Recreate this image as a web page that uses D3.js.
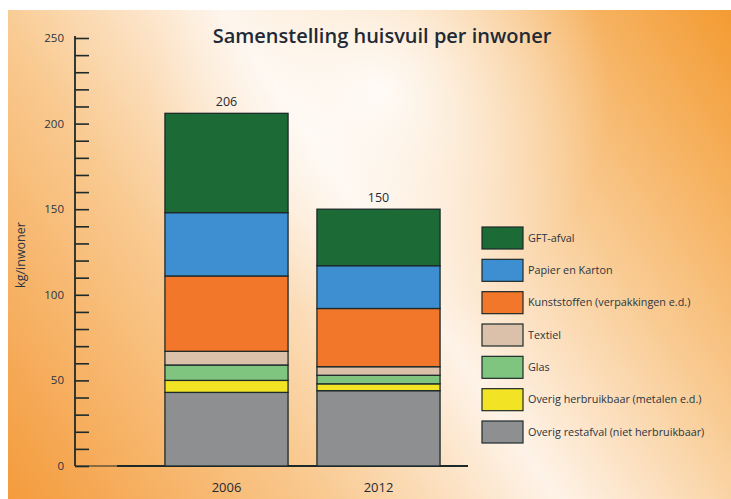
<!DOCTYPE html>
<html>
<head>
<meta charset="utf-8">
<script src="https://cdn.jsdelivr.net/npm/d3@7"></script>
<style>
  html, body { margin: 0; padding: 0; background: #fff; }
  svg { display: block; font-family: "Open Sans", "DejaVu Sans", sans-serif; }
</style>
</head>
<body>
<svg id="chart" width="731" height="499"></svg>
<script>
// data
const years = ["2006", "2012"];
const categories = [
  "Overig restafval (niet herbruikbaar)",
  "Overig herbruikbaar (metalen e.d.)",
  "Glas",
  "Textiel",
  "Kunststoffen (verpakkingen e.d.)",
  "Papier en Karton",
  "GFT-afval"
];
const values2006 = [43, 7, 9, 8, 44, 37, 58];
const values2012 = [44, 4, 5, 5, 34, 25, 33];
const totals = [206, 150];
const yTicks = [0, 50, 100, 150, 200, 250];
const colors = ["#8e8f91", "#f2e424", "#7fc47f", "#dcc1aa", "#f2772a", "#3d8fd1", "#1c6a36"];

const svg = d3.select("#chart");

// background gradient
const defs = svg.append("defs");
const grad = defs.append("linearGradient")
  .attr("id", "bg")
  .attr("gradientUnits", "userSpaceOnUse")
  .attr("x1", 0).attr("y1", 499).attr("x2", 731).attr("y2", 0);
grad.append("stop").attr("offset", "0%").attr("stop-color", "#f49a3a");
grad.append("stop").attr("offset", "30%").attr("stop-color", "#f9c98f");
grad.append("stop").attr("offset", "52%").attr("stop-color", "#fef3e8");
grad.append("stop").attr("offset", "72%").attr("stop-color", "#f9cc95");
grad.append("stop").attr("offset", "100%").attr("stop-color", "#f39a30");
const glow = defs.append("radialGradient").attr("id", "glow")
  .attr("gradientUnits", "userSpaceOnUse")
  .attr("cx", 380).attr("cy", 90).attr("r", 230);
glow.append("stop").attr("offset", "0%").attr("stop-color", "#fff").attr("stop-opacity", 0.85);
glow.append("stop").attr("offset", "100%").attr("stop-color", "#fff").attr("stop-opacity", 0);

svg.append("rect").attr("x", 8).attr("y", 10).attr("width", 723).attr("height", 489).attr("fill", "url(#bg)");
svg.append("rect").attr("x", 8).attr("y", 10).attr("width", 723).attr("height", 489).attr("fill", "url(#glow)");

// scales
const y = d3.scaleLinear().domain([0, 250]).range([466, 38]);
const x = d3.scaleBand().domain(years).range([150.5, 454.5]).paddingInner(0.19).paddingOuter(0.095);
const ink = "#1d2a2a";

// title
svg.append("text")
  .attr("x", 382).attr("y", 43)
  .attr("text-anchor", "middle")
  .attr("font-size", 20).attr("font-weight", 600)
  .attr("fill", "#1f2a36")
  .text("Samenstelling huisvuil per inwoner");

// y axis
const yAxis = d3.axisRight(y)
  .tickValues(d3.range(0, 251, 10))
  .tickSize(14)
  .tickFormat("");
const gy = svg.append("g").attr("transform", "translate(75,0)").call(yAxis);
gy.select(".domain").remove();
gy.selectAll(".tick line").attr("stroke", ink).attr("stroke-width", 1.6);
svg.append("line").attr("x1", 75).attr("x2", 75).attr("y1", y(250) - 2).attr("y2", y(0))
  .attr("stroke", ink).attr("stroke-width", 1.8);

svg.append("g").selectAll("text").data(yTicks).join("text")
  .attr("x", 64).attr("y", d => y(d) + 4)
  .attr("text-anchor", "end")
  .attr("font-size", 11.5).attr("fill", "#2a3440")
  .text(d => d);

svg.append("text")
  .attr("transform", "translate(25,255) rotate(-90)")
  .attr("text-anchor", "middle")
  .attr("font-size", 12.5).attr("fill", "#2a3440")
  .text("kg/inwoner");

// baseline
svg.append("line").attr("x1", 75).attr("x2", 117).attr("y1", y(0)).attr("y2", y(0))
  .attr("stroke", ink).attr("stroke-width", 1.2);
svg.append("line").attr("x1", 117).attr("x2", 468).attr("y1", y(0)).attr("y2", y(0))
  .attr("stroke", ink).attr("stroke-width", 2);

// stacked bars
const rows = years.map((yr, i) => {
  const row = { year: yr };
  const vals = i === 0 ? values2006 : values2012;
  categories.forEach((c, j) => { row[c] = vals[j]; });
  return row;
});
const series = d3.stack().keys(categories)(rows);

svg.append("g").selectAll("g").data(series).join("g")
  .attr("fill", (d, i) => colors[i])
  .selectAll("rect").data(d => d).join("rect")
  .attr("x", d => x(d.data.year))
  .attr("width", x.bandwidth())
  .attr("y", d => y(d[1]))
  .attr("height", d => y(d[0]) - y(d[1]))
  .attr("stroke", ink).attr("stroke-width", 1.3);

// totals
svg.append("g").selectAll("text").data(years).join("text")
  .attr("x", d => x(d) + x.bandwidth() / 2)
  .attr("y", (d, i) => y(totals[i]) - 7)
  .attr("text-anchor", "middle")
  .attr("font-size", 12.5).attr("fill", "#1f2a36")
  .text((d, i) => totals[i]);

// x labels
svg.append("g").selectAll("text").data(years).join("text")
  .attr("x", d => x(d) + x.bandwidth() / 2)
  .attr("y", 492)
  .attr("text-anchor", "middle")
  .attr("font-size", 13).attr("fill", "#1f2a36")
  .text(d => d);

// legend
const legendOrder = categories.map((c, i) => ({ name: c, color: colors[i] })).reverse();
const ly = d3.scalePoint().domain(legendOrder.map(d => d.name)).range([238, 432]);
const lg = svg.append("g").selectAll("g").data(legendOrder).join("g")
  .attr("transform", d => `translate(482,${ly(d.name)})`);
lg.append("rect")
  .attr("x", 0).attr("y", -11).attr("width", 41).attr("height", 22)
  .attr("fill", d => d.color).attr("stroke", ink).attr("stroke-width", 1.2);
lg.append("text")
  .attr("x", 46).attr("y", 3.8)
  .attr("font-size", 10.8).attr("fill", "#2a3440")
  .text(d => d.name);
</script>
</body>
</html>
